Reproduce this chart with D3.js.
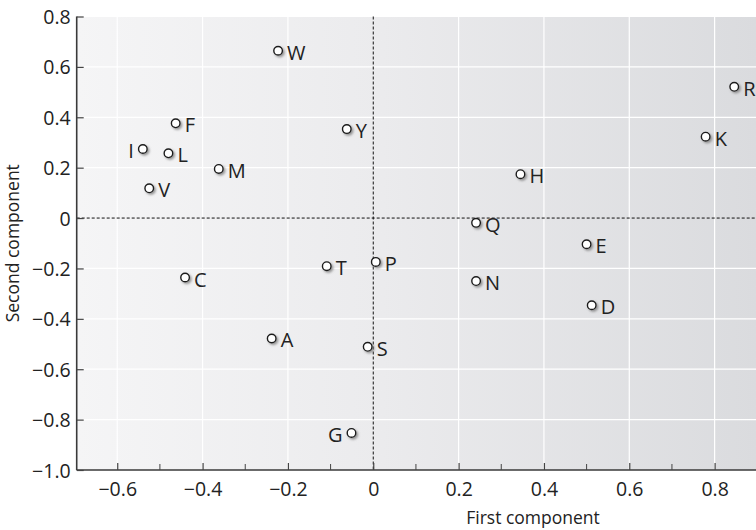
<!DOCTYPE html>
<html>
<head>
<meta charset="utf-8">
<script src="https://cdn.jsdelivr.net/npm/d3@7"></script>
<style>
  html, body { margin: 0; padding: 0; background: #fff; }
  svg { display: block; }
</style>
</head>
<body>
<div id="chart"></div>
<script>
// amino acid scores on the first two components
const names = ["W", "R", "F", "Y", "K", "I", "L", "M", "H", "V", "Q", "E", "C", "T", "P", "N", "D", "A", "S", "G"];
const firstComp = [-0.223, 0.846, -0.463, -0.062, 0.779, -0.540, -0.480, -0.362, 0.345, -0.525, 0.241, 0.500, -0.441, -0.109, 0.006, 0.241, 0.512, -0.238, -0.013, -0.051];
const secondComp = [0.664, 0.521, 0.376, 0.353, 0.323, 0.274, 0.257, 0.195, 0.174, 0.118, -0.019, -0.104, -0.236, -0.191, -0.174, -0.250, -0.346, -0.478, -0.511, -0.853];
const labelLeft = ["I", "G"];

const xTicks = [-0.6, -0.4, -0.2, 0, 0.2, 0.4, 0.6, 0.8];
const xMinorTicks = [-0.5, -0.3, -0.1, 0.1, 0.3, 0.5, 0.7];
const yTicks = [-1.0, -0.8, -0.6, -0.4, -0.2, 0, 0.2, 0.4, 0.6, 0.8];

const width = 756, height = 530;
const marginLeft = 76.7, marginTop = 16.5, marginBottom = 60;

const x = d3.scaleLinear([-0.695, 0.897], [marginLeft, width]);
const y = d3.scaleLinear([-1.0, 0.8], [height - marginBottom, marginTop]);

const fmt = v => {
  if (v === 0) return "0";
  const s = Math.abs(v).toFixed(1);
  return (v < 0 ? "\u2212" : "") + s;
};

const svg = d3.select("#chart").append("svg")
    .attr("width", width)
    .attr("height", height)
    .attr("viewBox", [0, 0, width, height])
    .attr("font-family", "'Open Sans', sans-serif");

const defs = svg.append("defs");
const grad = defs.append("linearGradient")
    .attr("id", "bg")
    .attr("x1", 0).attr("x2", 1).attr("y1", 0).attr("y2", 0);
grad.append("stop").attr("offset", "0%").attr("stop-color", "#f5f5f6");
grad.append("stop").attr("offset", "45%").attr("stop-color", "#ebebed");
grad.append("stop").attr("offset", "100%").attr("stop-color", "#dadbde");

const shadow = defs.append("filter").attr("id", "shadow")
    .attr("x", "-50%").attr("y", "-50%").attr("width", "200%").attr("height", "200%");
shadow.append("feDropShadow")
    .attr("dx", 1.6).attr("dy", 1.6)
    .attr("stdDeviation", 0.9)
    .attr("flood-color", "#7a7a7a")
    .attr("flood-opacity", 0.8);

const [x0, x1] = x.range();
const [y0, y1] = y.range();

// background
svg.append("rect")
    .attr("x", x0).attr("y", y1)
    .attr("width", x1 - x0).attr("height", y0 - y1)
    .attr("fill", "url(#bg)");

// grid
svg.append("g")
  .selectAll("line")
  .data(xTicks.filter(d => d !== 0))
  .join("line")
    .attr("x1", d => x(d)).attr("x2", d => x(d))
    .attr("y1", y1).attr("y2", y0)
    .attr("stroke", "#fff").attr("stroke-width", 1.2);

svg.append("g")
  .selectAll("line")
  .data(yTicks.filter(d => d !== 0 && d !== -1))
  .join("line")
    .attr("x1", x0).attr("x2", x1)
    .attr("y1", d => y(d)).attr("y2", d => y(d))
    .attr("stroke", "#fff").attr("stroke-width", 1.2);

// zero lines
svg.append("line")
    .attr("x1", x(0)).attr("x2", x(0))
    .attr("y1", y1).attr("y2", y0)
    .attr("stroke", "#111").attr("stroke-width", 1)
    .attr("stroke-dasharray", "3,2");
svg.append("line")
    .attr("x1", x0).attr("x2", x1)
    .attr("y1", y(0)).attr("y2", y(0))
    .attr("stroke", "#111").attr("stroke-width", 1)
    .attr("stroke-dasharray", "3,2");

// axes
const xAxis = svg.append("g")
    .attr("transform", `translate(0,${y0})`)
    .call(d3.axisBottom(x).tickValues(xTicks).tickFormat(fmt).tickSizeInner(-7).tickSizeOuter(0).tickPadding(12));
xAxis.append("g")
  .selectAll("line")
  .data(xMinorTicks)
  .join("line")
    .attr("x1", d => x(d)).attr("x2", d => x(d))
    .attr("y1", 0).attr("y2", -6)
    .attr("stroke", "#444");

const yAxis = svg.append("g")
    .attr("transform", `translate(${x0},0)`)
    .call(d3.axisLeft(y).tickValues(yTicks).tickFormat(fmt).tickSizeInner(-7).tickSizeOuter(0).tickPadding(6));

[xAxis, yAxis].forEach(g => {
  g.select(".domain").attr("stroke", "#3a3a3a").attr("stroke-width", 1.6);
  g.selectAll(".tick line").attr("stroke", "#444").attr("stroke-width", 1.2);
  g.selectAll(".tick text")
      .attr("font-family", "'Open Sans', sans-serif")
      .attr("font-size", 19.5)
      .attr("fill", "#222");
});
xAxis.select(".domain").attr("d", `M${x0},0H${x1}`);
yAxis.select(".domain").attr("d", `M0,${y0}V${y1}`);
yAxis.selectAll(".tick text").attr("dy", "0.36em");

// axis titles
svg.append("text")
    .attr("x", 533).attr("y", 524)
    .attr("text-anchor", "middle")
    .attr("font-size", 17.5)
    .attr("fill", "#222")
    .text("First component");

svg.append("text")
    .attr("transform", `translate(19,${(y0 + y1) / 2}) rotate(-90)`)
    .attr("text-anchor", "middle")
    .attr("font-size", 17.5)
    .attr("fill", "#222")
    .text("Second component");

// points
const pts = svg.append("g")
  .selectAll("g")
  .data(d3.range(names.length))
  .join("g")
    .attr("transform", i => `translate(${x(firstComp[i])},${y(secondComp[i])})`);

pts.append("circle")
    .attr("r", 4.3)
    .attr("fill", "#fff")
    .attr("stroke", "#1a1a1a")
    .attr("stroke-width", 1.4)
    .attr("filter", "url(#shadow)");

pts.append("text")
    .attr("x", i => labelLeft.includes(names[i]) ? -9 : 9)
    .attr("y", 2)
    .attr("dy", "0.35em")
    .attr("text-anchor", i => labelLeft.includes(names[i]) ? "end" : "start")
    .attr("font-size", 20)
    .attr("fill", "#222")
    .text(i => names[i]);
</script>
</body>
</html>
